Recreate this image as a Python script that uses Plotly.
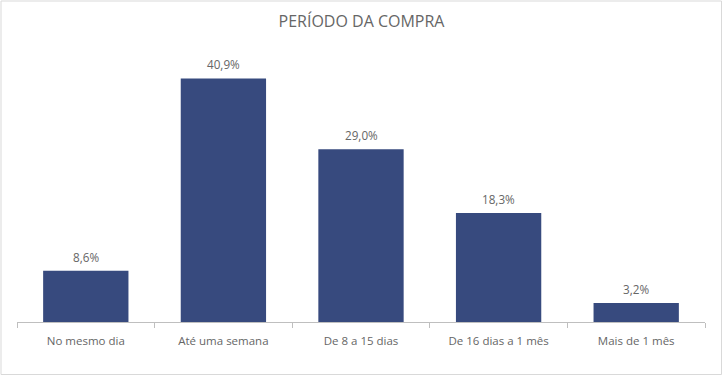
import plotly.graph_objects as go

categories = ["No mesmo dia", "Até uma semana", "De 8 a 15 dias", "De 16 dias a 1 mês", "Mais de 1 mês"]
values = [8.6, 40.9, 29.0, 18.3, 3.2]
labels = ["8,6%", "40,9%", "29,0%", "18,3%", "3,2%"]

W, H = 723, 376
ml, mr, mt, mb = 17, 18, 54, 54
TXT = "#666666"

fig = go.Figure(go.Bar(
    x=categories, y=values,
    marker=dict(color="#374A7E", line=dict(width=0)),
    width=0.62,
))

for c, v, t in zip(categories, values, labels):
    fig.add_annotation(x=c, y=v, text=t, showarrow=False, yanchor="bottom", yshift=4,
                       font=dict(family="Open Sans", size=11.7, color=TXT))

pw = W - ml - mr
ph = H - mt - mb
fig.update_layout(
    width=W, height=H,
    margin=dict(l=ml, r=mr, t=mt, b=mb),
    paper_bgcolor="white", plot_bgcolor="white",
    title=dict(text="PERÍODO DA COMPRA", x=0.5, xanchor="center", y=1 - 21 / H, yanchor="middle",
               font=dict(family="Open Sans", size=16, color=TXT)),
    showlegend=False,
    xaxis=dict(showline=True, linecolor="#BFBFBF", linewidth=1, ticks="outside", tickson="boundaries",
               ticklen=5, tickcolor="#BFBFBF", showgrid=False, ticklabelstandoff=8,
               tickfont=dict(family="Open Sans", size=11.5, color=TXT)),
    yaxis=dict(range=[0, 45], visible=False, showgrid=False, zeroline=False),
    shapes=[dict(type="rect", xref="paper", yref="paper",
                 x0=-(ml - 1) / pw, x1=1 + (mr - 1.5) / pw,
                 y0=-(mb - 1.5) / ph, y1=1 + (mt - 1) / ph,
                 line=dict(color="#D9D9D9", width=1), fillcolor="rgba(0,0,0,0)", layer="below")],
    bargap=0.38,
)

fig.write_html("out.html", config={"displayModeBar": False},
               post_script="document.body.style.margin='0';")
